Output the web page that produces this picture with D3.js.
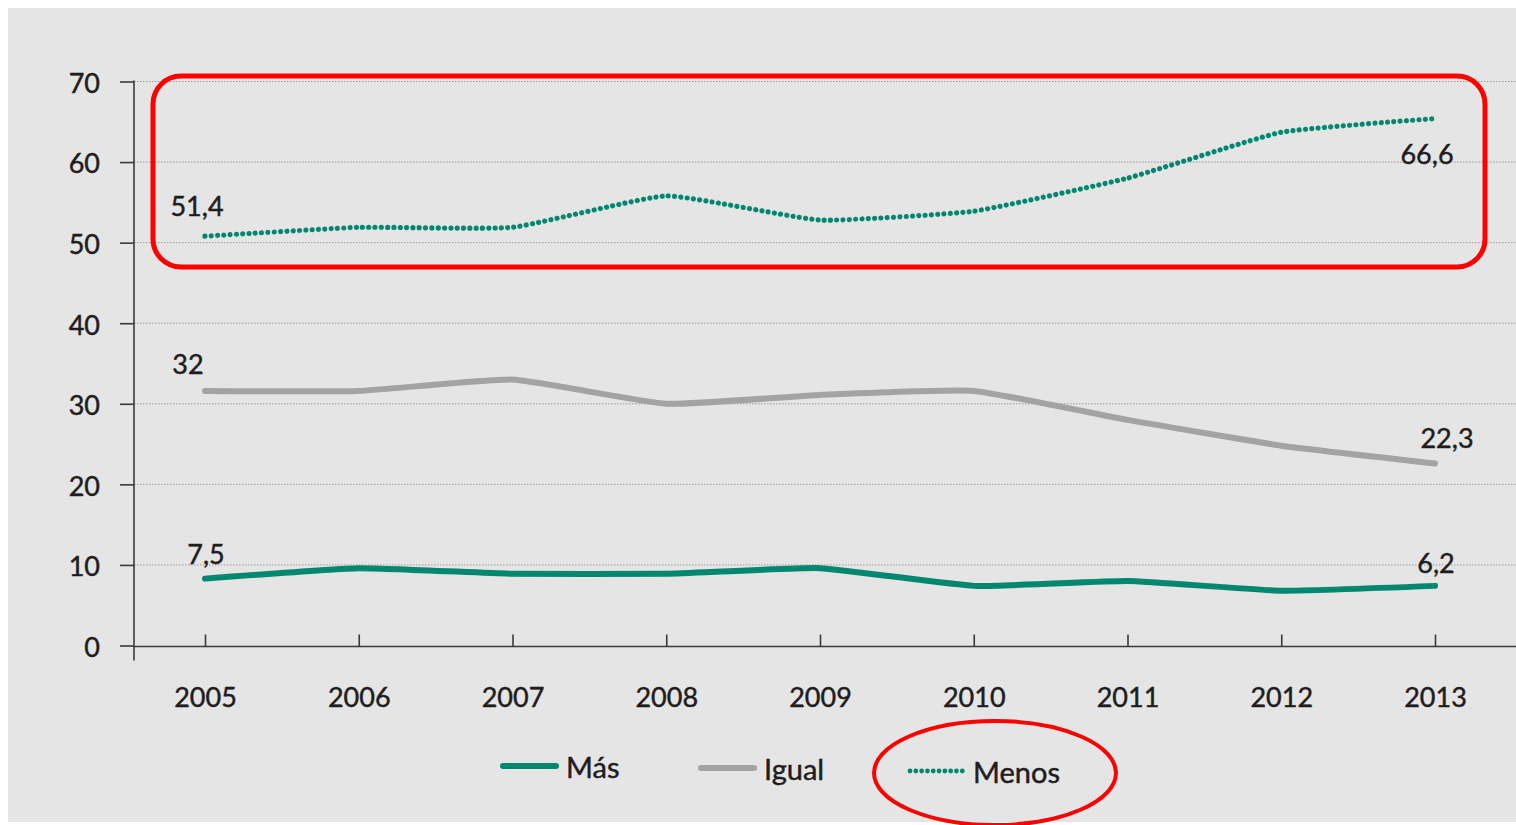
<!DOCTYPE html>
<html>
<head>
<meta charset="utf-8">
<script src="https://cdn.jsdelivr.net/npm/d3@7"></script>
<style>
  html, body { margin: 0; padding: 0; background: #ffffff; }
  svg { display: block; font-family: Lato, "Noto Sans", sans-serif; }
</style>
</head>
<body>
<svg id="chart" width="1516" height="825"></svg>
<script>
const years = ["2005", "2006", "2007", "2008", "2009", "2010", "2011", "2012", "2013"];
const mas = [8.3, 9.6, 8.9, 8.9, 9.6, 7.4, 8.0, 6.8, 7.4];
const igual = [31.6, 31.6, 33.0, 30.0, 31.1, 31.6, 28.0, 24.8, 22.6];
const menos = [50.8, 51.9, 51.9, 55.8, 52.8, 53.9, 58.0, 63.7, 65.4];
const yTicks = [0, 10, 20, 30, 40, 50, 60, 70];
const endLabels = [
  { series: "menos", first: "51,4", last: "66,6" },
  { series: "igual", first: "32", last: "22,3" },
  { series: "mas", first: "7,5", last: "6,2" }
];

const TEAL = "#00876f";
const GREY = "#a3a3a3";
const INK = "#1f1c1d";

const svg = d3.select("#chart");

function ink(sel) {
  sel.attr("fill", INK)
    .attr("stroke", INK)
    .attr("stroke-width", 0.45)
    .attr("paint-order", "stroke");
}

// panel background
svg.append("rect")
  .attr("x", 8).attr("y", 8)
  .attr("width", 1516).attr("height", 814)
  .attr("fill", "#e5e5e5");

const x = d3.scalePoint().domain(years).range([205, 1435]);
const y = d3.scaleLinear().domain([0, 70]).range([645.5, 81.5]);
const axisX = 134;

// gridlines
svg.append("g")
  .selectAll("line")
  .data(yTicks.filter(d => d > 0))
  .join("line")
  .attr("x1", axisX).attr("x2", 1516)
  .attr("y1", d => y(d)).attr("y2", d => y(d))
  .attr("stroke", "#9a9a9a")
  .attr("stroke-width", 1)
  .attr("stroke-dasharray", "1.5 1.5");

// y axis
const gy = svg.append("g")
  .attr("transform", `translate(${axisX},0)`)
  .call(d3.axisLeft(y).tickValues(yTicks).tickSize(14).tickPadding(20));
gy.select(".domain").remove();
gy.selectAll(".tick line").attr("stroke", "#3a3a3a").attr("stroke-width", 1.6);
gy.selectAll(".tick text")
  .attr("font-family", "Lato, sans-serif")
  .attr("font-size", 27)
  .attr("dy", "0.4em")
  .call(ink);

// x axis
const gx = svg.append("g")
  .attr("transform", `translate(0,${y(0) + 1})`)
  .call(d3.axisBottom(x).tickSize(-12).tickPadding(41));
gx.select(".domain").remove();
gx.selectAll(".tick line").attr("stroke", "#3a3a3a").attr("stroke-width", 1.6);
gx.selectAll(".tick text")
  .attr("font-family", "Lato, sans-serif")
  .attr("font-size", 27)
  .call(ink);

// axis lines
svg.append("line")
  .attr("x1", axisX).attr("x2", axisX)
  .attr("y1", y(70) - 1).attr("y2", y(0) + 15)
  .attr("stroke", "#3a3a3a").attr("stroke-width", 1.6);
svg.append("line")
  .attr("x1", axisX).attr("x2", 1516)
  .attr("y1", y(0) + 1).attr("y2", y(0) + 1)
  .attr("stroke", "#3a3a3a").attr("stroke-width", 1.6);

// lines
const line = d3.line()
  .x((d, i) => x(years[i]))
  .y(d => y(d))
  .curve(d3.curveCardinal.tension(0.6));

const seriesList = [
  { key: "mas", name: "Más", values: mas, color: TEAL, width: 6, dash: null },
  { key: "igual", name: "Igual", values: igual, color: GREY, width: 6, dash: null },
  { key: "menos", name: "Menos", values: menos, color: TEAL, width: 5.2, dash: "0.01 6.3" }
];

seriesList.forEach(s => {
  svg.append("path")
    .datum(s.values)
    .attr("d", line)
    .attr("fill", "none")
    .attr("stroke", s.color)
    .attr("stroke-width", s.width)
    .attr("stroke-linecap", "round")
    .attr("stroke-linejoin", "round")
    .attr("stroke-dasharray", s.dash);
});

// end value labels
const labelFont = 27;
const firstPos = { menos: [-8, -31], igual: [-17, -27], mas: [1, -25] };
const lastPos = { menos: [-8, 35], igual: [12, -26], mas: [1, -23] };
endLabels.forEach(l => {
  const v = seriesList.find(d => d.key === l.series).values;
  svg.append("text")
    .attr("x", x(years[0]) + firstPos[l.series][0])
    .attr("y", y(v[0]) + firstPos[l.series][1])
    .attr("text-anchor", "middle")
    .attr("dominant-baseline", "central")
    .attr("font-size", labelFont)
    .text(l.first)
    .call(ink);
  svg.append("text")
    .attr("x", x(years[years.length - 1]) + lastPos[l.series][0])
    .attr("y", y(v[v.length - 1]) + lastPos[l.series][1])
    .attr("text-anchor", "middle")
    .attr("dominant-baseline", "central")
    .attr("font-size", labelFont)
    .text(l.last)
    .call(ink);
});

// legend
const legendItems = [
  { s: seriesList[0], x: 503, y: 766 },
  { s: seriesList[1], x: 701, y: 768 },
  { s: seriesList[2], x: 910, y: 771 }
];
const legend = svg.append("g");
legendItems.forEach(it => {
  legend.append("line")
    .attr("x1", it.x).attr("x2", it.x + 53)
    .attr("y1", it.y).attr("y2", it.y)
    .attr("stroke", it.s.color)
    .attr("stroke-width", it.s.key === "menos" ? 4.8 : 6)
    .attr("stroke-linecap", "round")
    .attr("stroke-dasharray", it.s.key === "menos" ? "0.01 5.8" : null);
  legend.append("text")
    .attr("x", it.x + 63)
    .attr("y", it.y)
    .attr("dominant-baseline", "central")
    .attr("font-size", 29)
    .text(it.s.name)
    .call(ink);
});

// red annotations
svg.append("rect")
  .attr("x", 153).attr("y", 76)
  .attr("width", 1332).attr("height", 191)
  .attr("rx", 28).attr("ry", 28)
  .attr("fill", "none")
  .attr("stroke", "#ff0000")
  .attr("stroke-width", 5);
svg.append("ellipse")
  .attr("cx", 995).attr("cy", 773)
  .attr("rx", 121).attr("ry", 52)
  .attr("fill", "none")
  .attr("stroke", "#ff0000")
  .attr("stroke-width", 4);
</script>
</body>
</html>
